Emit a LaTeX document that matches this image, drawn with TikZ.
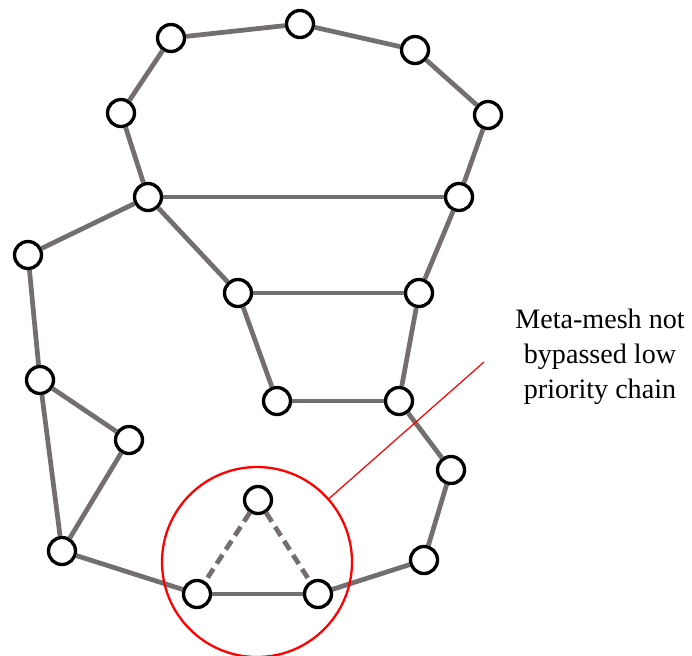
\documentclass[tikz,border=0pt]{standalone}
\usepackage{fontspec}
\setmainfont{Liberation Serif}
\usetikzlibrary{calc}
\definecolor{meshgray}{RGB}{116,111,111}
\tikzset{
    my-vertex/.style={
        draw, shape=circle, fill=white, line width=1.9pt, minimum size=0.54cm, inner sep=0pt
    },
    my-edge/.style={
        draw=meshgray, line width=2.7pt
    },
    my-dashed-edge/.style={
        my-edge, dash pattern=on 6pt off 3.5pt
    },
    my-focus/.style={
        draw=red, shape=circle, line width=1.3pt, minimum size=3.8cm, inner sep=0pt
    },
    my-lead/.style={
        draw=red, line width=0.7pt
    },
}

\begin{document}
\begin{tikzpicture}

        \useasboundingbox (0,0) rectangle (13.84,-13.10);

        % UPPER RING
        \node[my-vertex] (V1)  at (3.42,-0.76)             {};
        \node[my-vertex] (V2)  at ($(V1) + (2.58, .28)$)   {};
        \node[my-vertex] (V3)  at ($(V2) + (2.30, -.52)$)  {};
        \node[my-vertex] (V4)  at ($(V3) + (1.46, -1.30)$) {};
        \node[my-vertex] (V5)  at ($(V1) + (-1, -1.50)$)   {};
        \node[my-vertex] (V6)  at ($(V5) + (.54, -1.68)$)  {};
        \node[my-vertex] (V7)  at ($(V6) + (6.22, 0)$)     {};

        % INNER TRAPEZOID
        \node[my-vertex] (V8)  at ($(V6) + (1.80, -1.92)$) {};
        \node[my-vertex] (V9)  at ($(V8) + (3.62, 0)$)     {};
        \node[my-vertex] (V10) at ($(V8) + (.78, -2.16)$)  {};
        \node[my-vertex] (V11) at ($(V10) + (2.44, 0)$)    {};

        % RIGHT CHAIN
        \node[my-vertex] (V12) at ($(V11) + (1.04, -1.38)$) {};
        \node[my-vertex] (V13) at ($(V12) + (-.54, -1.80)$) {};

        % LEFT LOOP
        \node[my-vertex] (V14) at ($(V6) + (-2.40, -1.16)$) {};
        \node[my-vertex] (V15) at ($(V14) + (.24, -2.50)$)  {};
        \node[my-vertex] (V16) at ($(V15) + (1.78, -1.20)$) {};
        \node[my-vertex] (V17) at ($(V15) + (.44, -3.42)$)  {};

        % TRIANGLE
        \node[my-vertex] (V18) at ($(V17) + (2.70, -.86)$)  {};
        \node[my-vertex] (V19) at ($(V18) + (2.42, 0)$)     {};
        \node[my-vertex] (V20) at ($(V18) + (1.22, 1.88)$)  {};

        % EDGES
        \draw[my-edge] (V1) -- (V2) -- (V3) -- (V4);
        \draw[my-edge] (V1) -- (V5) -- (V6);
        \draw[my-edge] (V4) -- (V7);
        \draw[my-edge] (V6) -- (V7);
        \draw[my-edge] (V6) -- (V8);
        \draw[my-edge] (V6) -- (V14);
        \draw[my-edge] (V7) -- (V9);
        \draw[my-edge] (V8) -- (V9);
        \draw[my-edge] (V8) -- (V10);
        \draw[my-edge] (V9) -- (V11);
        \draw[my-edge] (V10) -- (V11);
        \draw[my-edge] (V11) -- (V12) -- (V13) -- (V19);
        \draw[my-edge] (V14) -- (V15);
        \draw[my-edge] (V15) -- (V16) -- (V17);
        \draw[my-edge] (V15) -- (V17);
        \draw[my-edge] (V17) -- (V18);
        \draw[my-edge] (V18) -- (V19);

        % BYPASSED EDGES
        \draw[my-dashed-edge] (V20) -- (V18);
        \draw[my-dashed-edge] (V20) -- (V19);

        % HIGHLIGHT
        \node[my-focus] (FOCUS) at (5.14,-11.24) {};
        \coordinate (LEADEND) at (9.68,-7.24);
        \draw[my-lead] (FOCUS) -- (LEADEND);

        % LABEL
        \node[align=center, font=\rmfamily\fontsize{16}{20}\selectfont] (NOTE) at (12.00,-7.14)
            {Meta-mesh not\\bypassed low\\priority chain};

\end{tikzpicture}
\end{document}
